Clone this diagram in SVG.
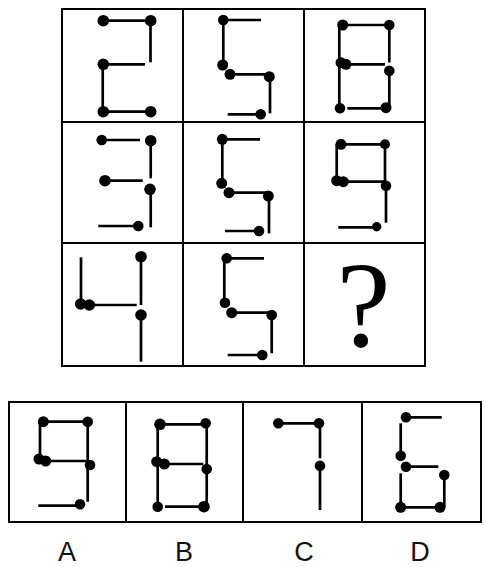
<svg xmlns="http://www.w3.org/2000/svg" width="486" height="567" viewBox="0 0 486 567">
<style>
.frame{fill:none;stroke:#000;stroke-width:2}
.seg{stroke:#000;stroke-width:2.7;stroke-linecap:butt}
.dot{fill:#000}
.lbl{font-family:"Liberation Sans",Arial,sans-serif;font-size:27px;fill:#111;text-anchor:middle}
.q{font-family:"Liberation Serif","Times New Roman",serif;font-size:122px;fill:#000;text-anchor:middle}
</style>
<rect width="486" height="567" fill="#fff"/>
<g id="grid">
<rect class="frame" x="62" y="9" width="363" height="357"/>
<line class="frame" x1="183" y1="9" x2="183" y2="366"/>
<line class="frame" x1="304" y1="9" x2="304" y2="366"/>
<line class="frame" x1="62" y1="122" x2="425" y2="122"/>
<line class="frame" x1="62" y1="243" x2="425" y2="243"/>
</g>
<g id="options-frame">
<rect class="frame" x="9" y="402" width="472" height="120"/>
<line class="frame" x1="126" y1="402" x2="126" y2="522"/>
<line class="frame" x1="243" y1="402" x2="243" y2="522"/>
<line class="frame" x1="362" y1="402" x2="362" y2="522"/>
</g>
<g id="cell-r1c1">
<line class="seg" x1="103.3" y1="20.7" x2="150.7" y2="20.7"/>
<line class="seg" x1="150.5" y1="20.7" x2="150.5" y2="62.3"/>
<line class="seg" x1="103.3" y1="64.3" x2="145" y2="64.3"/>
<line class="seg" x1="102.7" y1="64.3" x2="102.7" y2="111.7"/>
<line class="seg" x1="103.3" y1="111.7" x2="150.7" y2="111.7"/>
<circle class="dot" cx="103.3" cy="20.7" r="5.8"/>
<circle class="dot" cx="150.7" cy="20.7" r="5.8"/>
<circle class="dot" cx="103.3" cy="64.3" r="5.8"/>
<circle class="dot" cx="103.3" cy="111.7" r="5.8"/>
<circle class="dot" cx="150.7" cy="111.7" r="5.8"/>
</g>
<g id="cell-r1c2">
<line class="seg" x1="223.3" y1="20" x2="261" y2="20"/>
<line class="seg" x1="223.3" y1="20" x2="223.3" y2="65"/>
<line class="seg" x1="230" y1="74.3" x2="269.3" y2="74.3"/>
<line class="seg" x1="270" y1="76.7" x2="270" y2="113.3"/>
<line class="seg" x1="227.7" y1="114.3" x2="260.7" y2="114.3"/>
<circle class="dot" cx="223.3" cy="20" r="5.3"/>
<circle class="dot" cx="222.7" cy="65" r="5.5"/>
<circle class="dot" cx="230" cy="74.3" r="5.5"/>
<circle class="dot" cx="269.3" cy="76.7" r="5.5"/>
<circle class="dot" cx="260.7" cy="114.3" r="5.3"/>
</g>
<g id="cell-r1c3">
<line class="seg" x1="342.7" y1="25" x2="389.3" y2="25"/>
<line class="seg" x1="339.3" y1="25" x2="339.3" y2="108.3"/>
<line class="seg" x1="346" y1="64.3" x2="385" y2="64.3"/>
<line class="seg" x1="389.3" y1="25" x2="389.3" y2="62.5"/>
<line class="seg" x1="389.3" y1="70.7" x2="389.3" y2="107.7"/>
<line class="seg" x1="347.3" y1="108.3" x2="385" y2="108.3"/>
<circle class="dot" cx="342.7" cy="25" r="5.5"/>
<circle class="dot" cx="389.3" cy="25" r="5.3"/>
<circle class="dot" cx="341" cy="62.7" r="5.5"/>
<circle class="dot" cx="346" cy="64.3" r="5.5"/>
<circle class="dot" cx="389.3" cy="70.7" r="5.3"/>
<circle class="dot" cx="340" cy="108.3" r="5.3"/>
<circle class="dot" cx="386" cy="107.7" r="5.5"/>
</g>
<g id="cell-r2c1">
<line class="seg" x1="101.7" y1="140" x2="140" y2="140"/>
<line class="seg" x1="150.7" y1="140.7" x2="150.7" y2="178.3"/>
<line class="seg" x1="105" y1="180.7" x2="142.7" y2="180.7"/>
<line class="seg" x1="150.7" y1="189.3" x2="150.7" y2="227.3"/>
<line class="seg" x1="98.3" y1="226" x2="138.3" y2="226"/>
<circle class="dot" cx="101.7" cy="140" r="5.3"/>
<circle class="dot" cx="150.7" cy="140.7" r="5.8"/>
<circle class="dot" cx="105" cy="180.7" r="5.8"/>
<circle class="dot" cx="150" cy="189.3" r="5.8"/>
<circle class="dot" cx="138.3" cy="226" r="5.3"/>
</g>
<g id="cell-r2c2">
<line class="seg" x1="222.3" y1="139.3" x2="260" y2="139.3"/>
<line class="seg" x1="222.3" y1="139.3" x2="222.3" y2="181.7"/>
<line class="seg" x1="229" y1="192.7" x2="268.3" y2="192.7"/>
<line class="seg" x1="269" y1="196" x2="269" y2="233.3"/>
<line class="seg" x1="225" y1="231" x2="259" y2="231"/>
<circle class="dot" cx="222.3" cy="139.3" r="5.5"/>
<circle class="dot" cx="221.7" cy="183.3" r="5.5"/>
<circle class="dot" cx="229" cy="192.7" r="5.5"/>
<circle class="dot" cx="268.3" cy="196" r="5.5"/>
<circle class="dot" cx="259" cy="231" r="5.3"/>
</g>
<g id="cell-r2c3">
<line class="seg" x1="341" y1="144.3" x2="385" y2="144.3"/>
<line class="seg" x1="336.7" y1="144.3" x2="336.7" y2="180"/>
<line class="seg" x1="343.3" y1="181.7" x2="385" y2="181.7"/>
<line class="seg" x1="385" y1="144.3" x2="385" y2="183"/>
<line class="seg" x1="386" y1="185.7" x2="386" y2="222.7"/>
<line class="seg" x1="338.3" y1="227.3" x2="376.7" y2="227.3"/>
<circle class="dot" cx="341" cy="144.3" r="5.5"/>
<circle class="dot" cx="385" cy="144.3" r="5"/>
<circle class="dot" cx="336.7" cy="180.7" r="5.5"/>
<circle class="dot" cx="343.3" cy="181.7" r="5.5"/>
<circle class="dot" cx="386" cy="185.7" r="5.3"/>
<circle class="dot" cx="376.7" cy="226.7" r="4.7"/>
</g>
<g id="cell-r3c1">
<line class="seg" x1="81" y1="257.3" x2="81" y2="304"/>
<line class="seg" x1="89.3" y1="305" x2="136.7" y2="305"/>
<line class="seg" x1="141" y1="256.7" x2="141" y2="305"/>
<line class="seg" x1="141" y1="315" x2="141" y2="361.7"/>
<circle class="dot" cx="80.7" cy="304" r="5.8"/>
<circle class="dot" cx="89.3" cy="305" r="5.8"/>
<circle class="dot" cx="141" cy="256.7" r="5.8"/>
<circle class="dot" cx="141" cy="315" r="5.8"/>
</g>
<g id="cell-r3c2">
<line class="seg" x1="226.7" y1="258.3" x2="264" y2="258.3"/>
<line class="seg" x1="224.3" y1="258.3" x2="224.3" y2="301.7"/>
<line class="seg" x1="231.7" y1="312.7" x2="271.7" y2="312.7"/>
<line class="seg" x1="271.7" y1="315" x2="271.7" y2="353.3"/>
<line class="seg" x1="227.7" y1="355" x2="262.3" y2="355"/>
<circle class="dot" cx="226.7" cy="258.3" r="5.3"/>
<circle class="dot" cx="225" cy="302.7" r="5.3"/>
<circle class="dot" cx="231.7" cy="312.7" r="5.5"/>
<circle class="dot" cx="271.7" cy="315" r="5.3"/>
<circle class="dot" cx="262.3" cy="355" r="5.3"/>
</g>
<g id="cell-r3c3">
<text class="q" x="363.5" y="346">?</text>
</g>
<g id="option-A">
<line class="seg" x1="43.3" y1="421.7" x2="87.7" y2="421.7"/>
<line class="seg" x1="40" y1="421.7" x2="40" y2="458.3"/>
<line class="seg" x1="45.7" y1="461" x2="86.7" y2="461"/>
<line class="seg" x1="87.7" y1="421.7" x2="87.7" y2="461.7"/>
<line class="seg" x1="87.7" y1="465" x2="87.7" y2="501.7"/>
<line class="seg" x1="38.3" y1="505.7" x2="80" y2="505.7"/>
<circle class="dot" cx="43.3" cy="421.7" r="5.5"/>
<circle class="dot" cx="87.7" cy="421.7" r="5.3"/>
<circle class="dot" cx="39" cy="459" r="5.5"/>
<circle class="dot" cx="45.7" cy="461" r="5.5"/>
<circle class="dot" cx="90" cy="465" r="5.3"/>
<circle class="dot" cx="80" cy="504.3" r="5.3"/>
<text class="lbl" x="67" y="561">A</text>
</g>
<g id="option-B">
<line class="seg" x1="160" y1="424.3" x2="205.7" y2="424.3"/>
<line class="seg" x1="157.7" y1="424.3" x2="157.7" y2="506.7"/>
<line class="seg" x1="164.3" y1="464" x2="203.3" y2="464"/>
<line class="seg" x1="206.7" y1="423.3" x2="206.7" y2="465"/>
<line class="seg" x1="206.7" y1="469" x2="206.7" y2="505"/>
<line class="seg" x1="165" y1="506.7" x2="204" y2="506.7"/>
<circle class="dot" cx="160" cy="424.3" r="5.8"/>
<circle class="dot" cx="205.7" cy="423.3" r="5.3"/>
<circle class="dot" cx="156.7" cy="461.7" r="5.5"/>
<circle class="dot" cx="164.3" cy="464" r="5.5"/>
<circle class="dot" cx="206.7" cy="469" r="5.3"/>
<circle class="dot" cx="157.7" cy="506.7" r="5.3"/>
<circle class="dot" cx="204" cy="506.7" r="5.8"/>
<text class="lbl" x="184" y="561">B</text>
</g>
<g id="option-C">
<line class="seg" x1="278.3" y1="423.3" x2="319" y2="423.3"/>
<line class="seg" x1="320" y1="423.3" x2="320" y2="458.3"/>
<line class="seg" x1="320" y1="465.7" x2="320" y2="510"/>
<circle class="dot" cx="278.3" cy="423.3" r="5.3"/>
<circle class="dot" cx="319" cy="423.3" r="5.3"/>
<circle class="dot" cx="320" cy="465.7" r="5.3"/>
<text class="lbl" x="304" y="561">C</text>
</g>
<g id="option-D">
<line class="seg" x1="406" y1="417.3" x2="441.7" y2="417.3"/>
<line class="seg" x1="400.7" y1="423.3" x2="400.7" y2="453.3"/>
<line class="seg" x1="406" y1="466.7" x2="438.3" y2="466.7"/>
<line class="seg" x1="444.3" y1="475" x2="444.3" y2="506.7"/>
<line class="seg" x1="400.7" y1="473.3" x2="400.7" y2="507.3"/>
<line class="seg" x1="400.7" y1="507.3" x2="440" y2="507.3"/>
<circle class="dot" cx="406" cy="417.3" r="5.3"/>
<circle class="dot" cx="400.7" cy="455.7" r="5.3"/>
<circle class="dot" cx="406" cy="466.7" r="5.3"/>
<circle class="dot" cx="444.3" cy="475" r="5.3"/>
<circle class="dot" cx="400.7" cy="507.3" r="5.5"/>
<circle class="dot" cx="440" cy="507.3" r="5.5"/>
<text class="lbl" x="420" y="561">D</text>
</g>
</svg>
